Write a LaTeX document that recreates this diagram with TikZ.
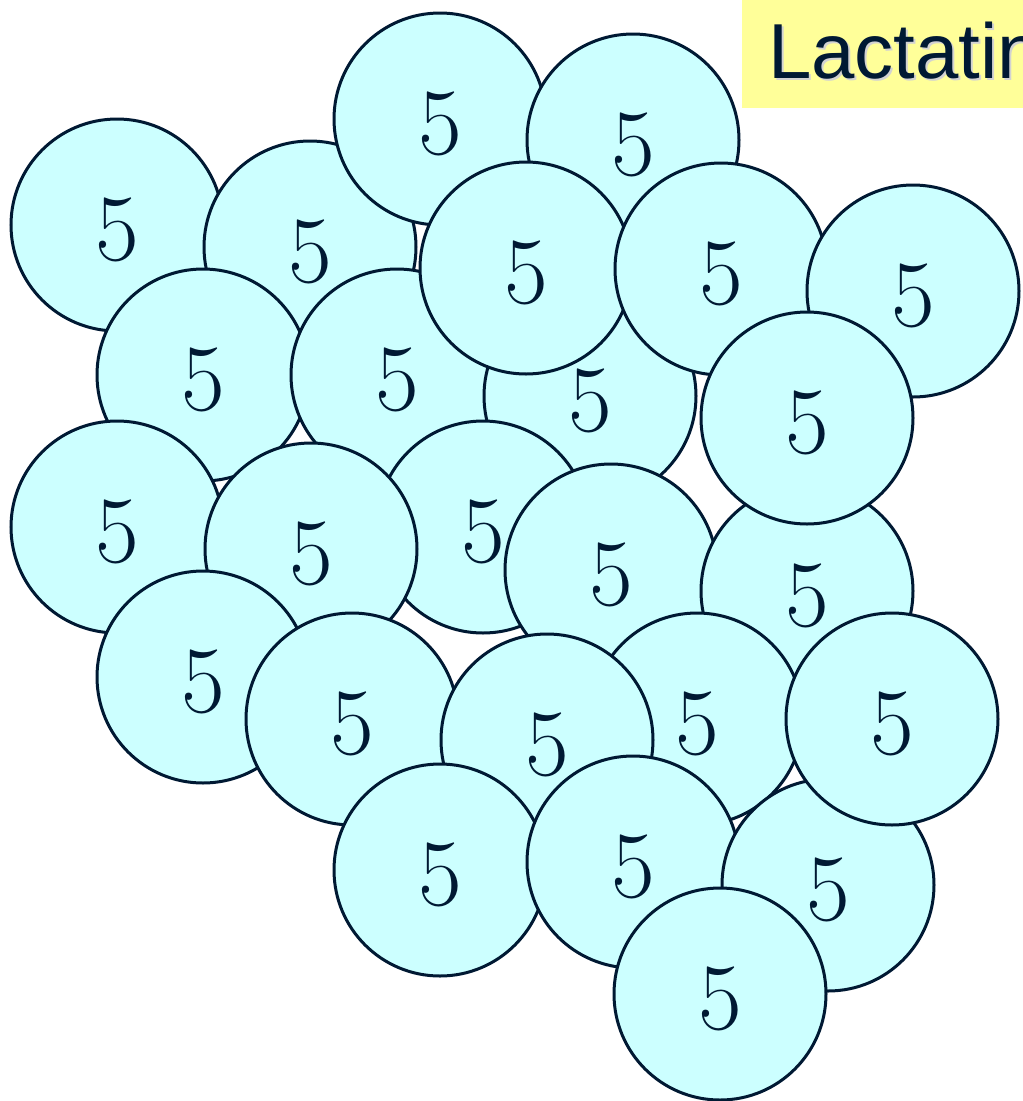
\documentclass[tikz,border=0pt]{standalone}
\usepackage{fontspec}
\newfontfamily\titlefont{Liberation Sans}
\definecolor{cellfill}{HTML}{CCFFFF}
\definecolor{ink}{HTML}{001933}
\definecolor{tagyellow}{HTML}{FFFF99}
\tikzset{
    cell/.style={circle, draw=ink, fill=cellfill, line width=3pt, inner sep=0pt,
        minimum size=212pt, text=ink, font=\rmfamily\fontsize{95}{95}\selectfont,
        text height=71pt, text depth=0pt},
    titletext/.style={anchor=base west, inner sep=0pt, font=\titlefont\fontsize{78}{78}\selectfont}
}
\begin{document}
\begin{tikzpicture}[x=1pt,y=-1pt]
    \useasboundingbox (0,0) rectangle (1023,1101);
    \clip (0,0) rectangle (1023,1101);
    % title box, cut off by the right edge
    \fill[tagyellow] (742,-5) rectangle (1030,108);
    \node[titletext, text=gray!35, xshift=2pt, yshift=-2pt] (shadow) at (768,78) {Lactatin};
    \node[titletext, text=ink] (title) at (768,78) {Lactatin};
    % cells, back to front
    \node[cell] (c3) at (117,225) {5};
    \node[cell] (c4) at (310,247) {5};
    \node[cell] (c1) at (440,119) {5};
    \node[cell] (c2) at (633,140) {5};
    \node[cell] (c8) at (203,375) {5};
    \node[cell] (c9) at (397,375) {5};
    \node[cell] (c10) at (590,396) {5};
    \node[cell] (c5) at (526,268) {5};
    \node[cell] (c6) at (721,269) {5};
    \node[cell] (c7) at (913,291) {5};
    \node[cell] (c12) at (117,527) {5};
    \node[cell] (c14) at (483,527) {5};
    \node[cell] (c13) at (311,549) {5};
    \node[cell] (c17) at (203,677) {5};
    \node[cell] (c15) at (611,570) {5};
    \node[cell] (c16) at (807,591) {5};
    \node[cell] (c11) at (807,418) {5};
    \node[cell] (c20) at (697,719) {5};
    \node[cell] (c18) at (352,719) {5};
    \node[cell] (c19) at (547,740) {5};
    \node[cell] (c22) at (440,870) {5};
    \node[cell] (c23) at (633,862) {5};
    \node[cell] (c24) at (828,885) {5};
    \node[cell] (c21) at (892,719) {5};
    \node[cell] (c25) at (720,994) {5};
\end{tikzpicture}
\end{document}
